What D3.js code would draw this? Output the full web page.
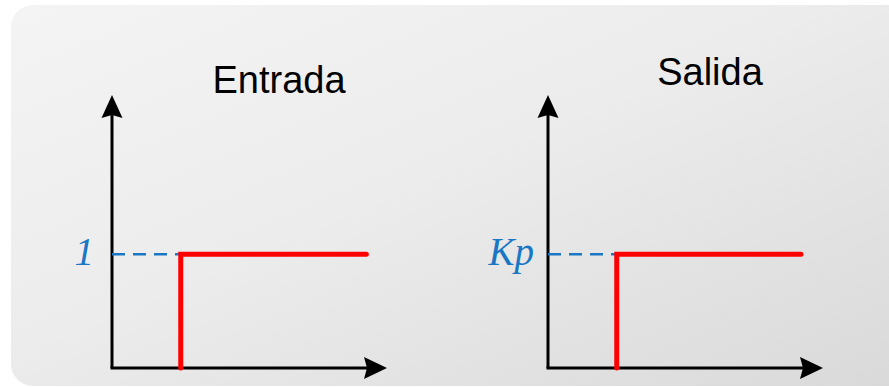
<!DOCTYPE html>
<html><head><meta charset="utf-8">
<script src="https://cdn.jsdelivr.net/npm/d3@7"></script>
<style>html,body{margin:0;padding:0;background:#fff;}svg{display:block;}</style>
</head><body>
<svg id="c" width="889" height="387"></svg>
<script>
// Data
const titles = ["Entrada", "Salida"];
const levelLabels = ["1", "Kp"];
const stepTimes = [1, 1];
const levels = [1, 1];
const endTimes = [3.7, 3.68];
const xMax = 4;
const yMax = 2.4;

const svg = d3.select("#c");
const defs = svg.append("defs");
const grad = defs.append("linearGradient").attr("id","bg")
  .attr("x1","0").attr("y1","0").attr("x2","1").attr("y2","1");
grad.append("stop").attr("offset","0").attr("stop-color","#f4f4f4");
grad.append("stop").attr("offset","0.45").attr("stop-color","#ececec");
grad.append("stop").attr("offset","1").attr("stop-color","#d9d9d9");

svg.append("rect").attr("x",11).attr("y",5).attr("width",900).attr("height",381)
  .attr("rx",22).attr("ry",22).attr("fill","url(#bg)");

const panelX = [112, 548];
const axisY = 368, axisTop = 95, axisLen = 275;
const titleX = [279, 710];
const titleY = [93, 85];
const labelOffset = [18, 14];

panelX.forEach((px, i) => {
  const x = d3.scaleLinear().domain([0, xMax]).range([px, px + axisLen]);
  const y = d3.scaleLinear().domain([0, yMax]).range([axisY, axisTop]);
  const g = svg.append("g");

  // axes lines
  g.append("line").attr("x1", x(0)).attr("y1", y(0)).attr("x2", x(0)).attr("y2", y(yMax) + 18)
    .attr("stroke","#000").attr("stroke-width",3);
  g.append("line").attr("x1", x(0) - 1.5).attr("y1", y(0)).attr("x2", x(xMax) - 18).attr("y2", y(0))
    .attr("stroke","#000").attr("stroke-width",3);
  // arrow heads
  g.append("path").attr("d", `M${x(0)},${y(yMax)} L${x(0)+10.5},${y(yMax)+23} L${x(0)},${y(yMax)+20} L${x(0)-10.5},${y(yMax)+23} Z`)
    .attr("fill","#000");
  g.append("path").attr("d", `M${x(xMax)},${y(0)} L${x(xMax)-23},${y(0)-11} L${x(xMax)-20},${y(0)} L${x(xMax)-23},${y(0)+11} Z`)
    .attr("fill","#000");

  // dashed reference
  g.append("line").attr("x1", x(0)).attr("y1", y(levels[i])).attr("x2", x(stepTimes[i])).attr("y2", y(levels[i]))
    .attr("stroke","#1a77c4").attr("stroke-width",2.5).attr("stroke-dasharray","13,8");

  // step
  const stepData = [[stepTimes[i], 0], [stepTimes[i], levels[i]], [endTimes[i], levels[i]]];
  g.append("path").datum(stepData)
    .attr("d", d3.line().x(d => x(d[0])).y(d => y(d[1])))
    .attr("fill","none").attr("stroke","#ff0000").attr("stroke-width",5)
    .attr("stroke-linecap","round").attr("stroke-linejoin","miter");

  // level label
  g.append("text").attr("x", x(0) - labelOffset[i]).attr("y", y(levels[i]) + 11)
    .attr("text-anchor","end")
    .attr("font-family","'Liberation Serif', 'DejaVu Serif', serif").attr("font-style","italic")
    .attr("font-size", 39).attr("fill","#1a77c4").text(levelLabels[i]);

  // title
  svg.append("text").attr("x", titleX[i]).attr("y", titleY[i]).attr("text-anchor","middle")
    .attr("font-family","'Liberation Sans', Arial, sans-serif").attr("font-size",38)
    .attr("fill","#000").text(titles[i]);
});
</script>
</body></html>
